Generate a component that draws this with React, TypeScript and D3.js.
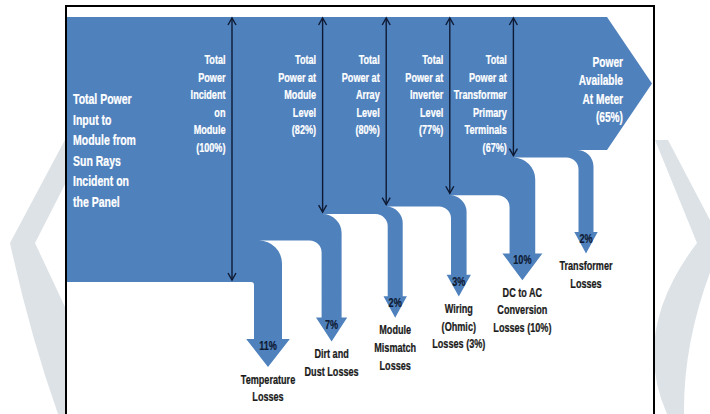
import * as d3 from "d3";

// losses along the chain, in % of incident power
const lossNames = ["temperature", "dirt", "mismatch", "wiring", "dcac", "transformer"];
const lossValues = [11, 7, 2, 3, 10, 2];
const lossPctLabels = ["11%", "7%", "2%", "3%", "10%", "2%"];
const lossLabels = [
  ["Temperature", "Losses"],
  ["Dirt and", "Dust Losses"],
  ["Module", "Mismatch", "Losses"],
  ["Wiring", "(Ohmic)", "Losses (3%)"],
  ["DC to AC", "Conversion", "Losses (10%)"],
  ["Transformer", "Losses"],
];

// stage markers: index of the loss after which the level is measured (-1 = input)
const stageAfterLoss = [-1, 1, 2, 3, 4];
const stageLabels = [
  ["Total", "Power", "Incident", "on", "Module", "(100%)"],
  ["Total", "Power at", "Module", "Level", "(82%)"],
  ["Total", "Power at", "Array", "Level", "(80%)"],
  ["Total", "Power at", "Inverter", "Level", "(77%)"],
  ["Total", "Power at", "Transformer", "Primary", "Terminals", "(67%)"],
];
const inputLabel = ["Total Power", "Input to", "Module from", "Sun Rays", "Incident on", "the Panel"];
const outputLabel = ["Power", "Available", "At Meter", "(65%)"];

const W = 710;
const H = 414;
const BLUE = "#4f81bd";
const NAVY = "#0e1a33";
const FONT = "'Liberation Sans', Arial, sans-serif";
const SX = 0.7; // condensed look

const TOP = 17;
const LEFT = 67;
const BODY_END = 607;
const TIP_X = 652;

// level after each loss: 100, 89, 82, ...
const levels = [100, ...d3.cumsum(lossValues).map((c) => 100 - c)];

const yBottom = d3.scaleLinear().domain([65, 100]).range([150, 282]);
const xTail = d3.scalePoint<string>().domain(lossNames).range([268, 586]);
const wTail = d3.scalePow().exponent(2).domain([2, 11]).range([15, 28]);
const headTopScale = d3.scaleLinear().domain([0, lossNames.length - 1]).range([339, 232]);

const geo = lossNames.map((name, i) => {
  const xc = xTail(name) as number;
  const w = wTail(lossValues[i]);
  const ro = w / 2 + 9;
  return {
    xc,
    w,
    xL: xc - w / 2,
    xR: xc + w / 2,
    ro,
    ri: i === 0 ? 3 : 12,
    outerStart: xc + w / 2 - ro,
    hw: w * 0.78,
    hh: w * 0.5 + 14,
    headTop: headTopScale(i),
    bNew: yBottom(levels[i + 1]),
    bPrev: yBottom(levels[i]),
  };
});

function flowPath() {
  const p = d3.path();
  const last = yBottom(levels[levels.length - 1]);
  p.moveTo(LEFT, TOP);
  p.lineTo(BODY_END, TOP);
  p.lineTo(TIP_X, (TOP + last) / 2);
  p.lineTo(BODY_END, last);
  for (let i = geo.length - 1; i >= 0; i--) {
    const g = geo[i];
    p.lineTo(g.outerStart, g.bNew);
    p.arc(g.outerStart, g.bNew + g.ro, g.ro, -Math.PI / 2, 0);
    p.lineTo(g.xR, g.headTop);
    p.lineTo(g.xc + g.hw, g.headTop);
    p.lineTo(g.xc, g.headTop + g.hh);
    p.lineTo(g.xc - g.hw, g.headTop);
    p.lineTo(g.xL, g.headTop);
    p.lineTo(g.xL, g.bPrev + g.ri);
    p.arc(g.xL - g.ri, g.bPrev + g.ri, g.ri, 0, -Math.PI / 2, true);
  }
  p.lineTo(LEFT, yBottom(100));
  p.closePath();
  return p.toString();
}

function Lines({ x, y, lines, size, lh, anchor, fill }: any) {
  return (
    <text
      transform={`translate(${x},${y}) scale(${SX},1)`}
      fontSize={size}
      fontWeight="bold"
      fontFamily={FONT}
      fill={fill}
      stroke={fill}
      strokeWidth={0.25}
      textAnchor={anchor}
    >
      {lines.map((l: string, i: number) => (
        <tspan key={i} x={0} y={i * lh}>
          {l}
        </tspan>
      ))}
    </text>
  );
}

function Marker({ x, y1, y2 }: { x: number; y1: number; y2: number }) {
  return (
    <g stroke={NAVY} strokeWidth={1.4} fill="none">
      <line x1={x} y1={y1} x2={x} y2={y2} />
      <path d={`M${x - 4},${y1 + 7}L${x},${y1}L${x + 4},${y1 + 7}`} />
      <path d={`M${x - 4},${y2 - 7}L${x},${y2}L${x + 4},${y2 - 7}`} />
    </g>
  );
}

export default function App() {
  const markers = stageAfterLoss.map((li, k) => {
    const x = li < 0 ? geo[0].xL - 22 : geo[li].outerStart;
    const lvl = li < 0 ? levels[0] : levels[li + 1];
    return { x, bottom: yBottom(lvl), lines: stageLabels[k] };
  });

  return (
    <svg
      width={W}
      height={H}
      style={{ position: "fixed", left: 0, top: 0, background: "#fff" }}
    >
      {/* watermark chevrons behind the framed picture */}
      <g fill="#dde2e6">
        <path d="M75,121L10,243Q30,335 58,414L80,414L80,339L35,243L80,155Z" />
        <path d="M655,140L668,140L722,243Q683,331 684,414L667,414Q630,331 697,243Z" />
      </g>
      <rect x={66} y={6} width={588} height={440} fill="#fff" stroke="#000" strokeWidth={2} />

      <path d={flowPath()} fill={BLUE} />

      {markers.map((m, k) => (
        <Marker key={k} x={m.x} y1={TOP + 1} y2={m.bottom - 2} />
      ))}

      <Lines x={73} y={104} lines={inputLabel} size={15} lh={20.6} anchor="start" fill="#fff" />
      {markers.map((m, k) => (
        <Lines key={k} x={m.x - 6.5} y={64} lines={m.lines} size={13} lh={17.6} anchor="end" fill="#fff" />
      ))}
      <Lines x={623} y={67} lines={outputLabel} size={14.5} lh={18.4} anchor="end" fill="#fff" />

      {geo.map((g, i) => (
        <g key={lossNames[i]}>
          <Lines x={g.xc} y={g.headTop + 11} lines={[lossPctLabels[i]]} size={13} lh={0} anchor="middle" fill={NAVY} />
          <Lines x={g.xc} y={g.headTop + g.hh + 16.5} lines={lossLabels[i]} size={13} lh={17.7} anchor="middle" fill="#1a1a1a" />
        </g>
      ))}
    </svg>
  );
}
